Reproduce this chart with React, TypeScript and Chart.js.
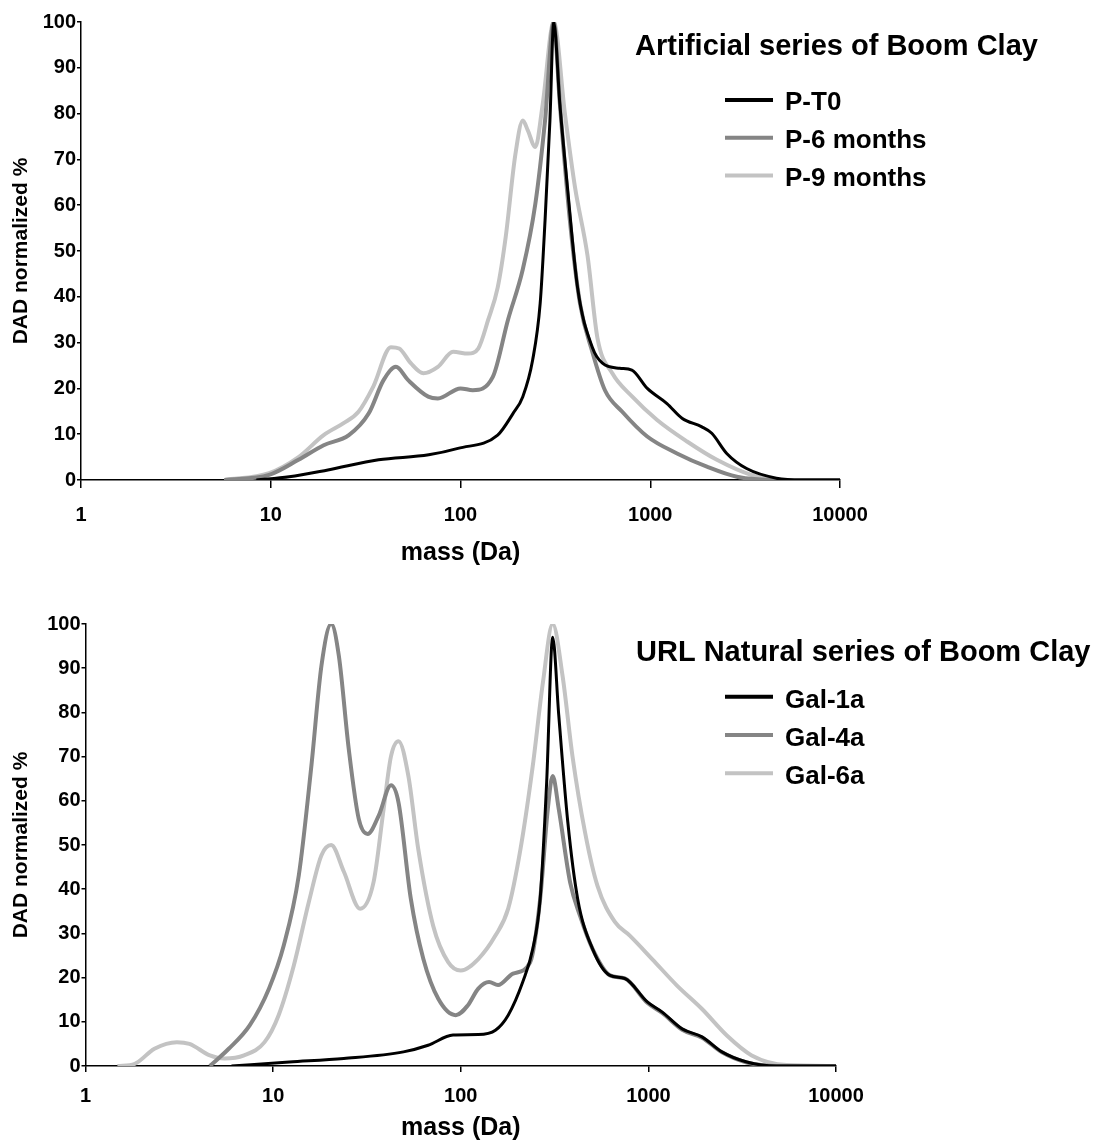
import React, { useEffect, useRef } from "react";
import { Chart, registerables } from "chart.js";

Chart.register(...registerables);

const FONT = "'Liberation Sans', Arial, Helvetica, sans-serif";

// ---------- shared axis text ----------
const massTicks = [1, 10, 100, 1000, 10000];
const yAxisTitle = "DAD normalized %";
const xAxisTitle = "mass (Da)";

// ---------- top chart: artificial series ----------
const topTitle = "Artificial series of Boom Clay";
const topNames = ["P-T0", "P-6 months", "P-9 months"];

const pT0Mass = [8.4, 12.5, 20, 37, 68, 97, 157, 189, 213, 240, 263, 279, 296, 310, 334, 366, 414, 495, 560, 690, 800, 965, 1225, 1470, 1870, 2110, 2530, 3220, 4620, 6300, 10000];
const pT0Val = [0, 0.7, 2.2, 4.4, 5.5, 6.9, 9.8, 14.5, 18.2, 26.2, 38.6, 56.7, 78.5, 100, 82, 64, 42, 29, 25.5, 24.4, 24, 20, 16.7, 13.5, 11.6, 10.2, 5.8, 2.5, 0.4, 0, 0];

const p6Mass = [5.7, 9.8, 14, 19, 25.8, 32.8, 39.3, 45.7, 53, 67.6, 76, 100, 116, 148, 178, 213, 248, 279, 310, 334, 377, 426, 495, 577, 712, 964, 1384, 1988, 2860, 4620, 10000];
const p6Val = [0, 1.1, 4.4, 7.6, 9.8, 14.5, 21.8, 24.7, 21.8, 18.2, 17.8, 20, 19.6, 22.5, 35, 46, 60.3, 78.5, 100, 82, 56.7, 38.6, 28, 19.6, 14.9, 9.5, 5.8, 2.9, 0.7, 0, 0];

const p9Mass = [5.7, 9.8, 14, 19, 24.2, 29, 34.7, 43, 47.5, 54.7, 63.7, 76, 91.4, 109.6, 124, 140, 157, 173, 194.5, 213, 226, 248, 271, 310, 355, 401, 467, 527, 631, 804, 1087, 1563, 2244, 3420, 5180, 10000];
const p9Val = [0, 1.5, 5, 9.8, 12.4, 14.9, 20.4, 29, 28.7, 25.5, 23.3, 24.7, 28, 27.6, 28.7, 35, 42, 53, 71, 78.5, 76.4, 72.7, 82, 100, 80, 64, 49, 31, 23.3, 18.2, 13.1, 8.4, 4.4, 1.1, 0, 0];

// ---------- bottom chart: URL natural series ----------
const bottomTitle = "URL Natural series of Boom Clay";
const bottomNames = ["Gal-1a", "Gal-4a", "Gal-6a"];

const g1Mass = [6, 12.2, 23.8, 49.5, 67, 91, 124, 153, 179, 214, 242, 265, 287, 309, 333, 372, 420, 504, 624, 749, 987, 1185, 1514, 1932, 2466, 3346, 4823, 10000];
const g1Val = [0, 0.9, 1.7, 3.2, 4.7, 7, 7.1, 8.1, 11.5, 19, 26.5, 37.8, 64.2, 97, 79.3, 55.2, 37.8, 26.5, 20.5, 19.8, 14.5, 12.2, 8.4, 6.6, 3.2, 0.9, 0, 0];

const g4Mass = [4.6, 5.8, 7.5, 9.5, 11.4, 13.7, 16, 18.1, 20.4, 22.4, 25.3, 28.6, 31.9, 36.5, 42.5, 46.6, 54.2, 63.2, 75.9, 94, 109, 124, 141.6, 158, 190, 234.6, 265, 291, 309, 333, 383, 432, 504, 624, 749, 987, 1185, 1514, 1932, 2466, 3346, 4823, 10000];
const g4Val = [0, 3.9, 9.2, 17.5, 27.3, 43.1, 68, 90.6, 100, 92.8, 71.7, 55.9, 52.5, 56.6, 63.5, 59.6, 37.8, 24.2, 15.2, 11.5, 13.7, 17.5, 19, 18.3, 20.9, 23.5, 37.8, 58.1, 65.6, 58.1, 41.5, 34, 26.5, 20.5, 19.8, 14.3, 12, 8.2, 6.4, 3.1, 0.8, 0, 0];

const g6Mass = [1.48, 1.83, 2.33, 3.07, 3.58, 4.6, 5.5, 7.0, 9.0, 10.7, 12.9, 15.5, 18.1, 20.4, 23.8, 29.1, 34.3, 38.8, 42.5, 46.6, 52.6, 59.4, 71.3, 85.7, 100, 124, 153, 179, 208, 242, 274, 309, 349, 394, 460, 535, 663, 796, 1047, 1421, 1932, 2620, 3554, 5453, 10000];
const g6Val = [0, 0.5, 3.9, 5.4, 5, 2.4, 1.7, 2.4, 5.4, 11.5, 22.8, 37.1, 47.7, 50, 44, 35.6, 41.6, 58.1, 70.1, 73.5, 65.6, 49, 31.7, 23.5, 21.6, 24.2, 29.5, 35.6, 49, 67.9, 86.7, 100, 88.2, 70.1, 52.8, 40.8, 32.6, 29.5, 24.2, 18.2, 12.9, 6.9, 2.4, 0.2, 0];

// ---------- styles ----------
const seriesColors = ["#000000", "#858585", "#c3c3c3"];
const seriesWidths = [3, 4, 4];

function toPoints(mass: number[], val: number[]) {
  return mass.map((m, i) => ({ x: m, y: val[i] }));
}

const keyPlugin = {
  id: "seriesKey",
  afterDraw(chart: any, _args: any, opts: any) {
    const ctx = chart.ctx;
    ctx.save();
    ctx.fillStyle = "#000";
    ctx.textAlign = "left";
    ctx.textBaseline = "alphabetic";
    ctx.font = `bold ${opts.titleSize}px ${FONT}`;
    ctx.fillText(opts.title, opts.titleX, opts.titleY);
    ctx.font = `bold ${opts.labelSize}px ${FONT}`;
    chart.data.datasets.forEach((ds: any, i: number) => {
      const y = opts.firstY + i * opts.gap;
      ctx.strokeStyle = ds.borderColor;
      ctx.lineWidth = opts.lineWidth;
      ctx.lineCap = "butt";
      ctx.beginPath();
      ctx.moveTo(opts.lineX1, y);
      ctx.lineTo(opts.lineX2, y);
      ctx.stroke();
      ctx.fillText(ds.label, opts.textX, y + opts.textDy);
    });
    ctx.restore();
  },
};

type Layout = {
  width: number;
  height: number;
  left: number;
  right: number;
  top: number;
  bottom: number;
  xTickLen: number;
  xTickPad: number;
  xTitlePad: number;
  key: any;
};

function buildConfig(names: string[], series: { x: number; y: number }[][], L: Layout): any {
  const tickFont = { family: FONT, size: 20, weight: "bold" as const };
  return {
    type: "line",
    data: {
      datasets: series.map((pts, i) => ({
        label: names[i],
        data: pts,
        borderColor: seriesColors[i],
        backgroundColor: seriesColors[i],
        borderWidth: seriesWidths[i],
        pointRadius: 0,
        fill: false,
        cubicInterpolationMode: "monotone",
      })),
    },
    options: {
      responsive: false,
      maintainAspectRatio: false,
      animation: false,
      devicePixelRatio: 1,
      events: [],
      layout: { padding: { left: 0, top: L.top, right: L.width - L.right, bottom: 0 } },
      plugins: {
        legend: { display: false },
        title: { display: false },
        tooltip: { enabled: false },
        seriesKey: L.key,
      },
      scales: {
        x: {
          type: "logarithmic",
          min: 1,
          max: 10000,
          afterBuildTicks: (s: any) => {
            s.ticks = massTicks.map((v) => ({ value: v }));
          },
          afterFit: (s: any) => {
            s.height = L.height - L.bottom;
          },
          ticks: {
            callback: (v: any) => String(v),
            color: "#000",
            font: tickFont,
            padding: L.xTickPad,
            maxRotation: 0,
            autoSkip: false,
          },
          grid: { drawOnChartArea: false, drawTicks: true, tickLength: L.xTickLen, color: "#000", lineWidth: 1.5 },
          border: { display: true, color: "#000", width: 1.5 },
          title: {
            display: true,
            text: xAxisTitle,
            color: "#000",
            font: { family: FONT, size: 25, weight: "bold", lineHeight: 1 },
            padding: { top: 0, bottom: L.xTitlePad },
          },
        },
        y: {
          type: "linear",
          min: 0,
          max: 100,
          afterFit: (s: any) => {
            s.width = L.left;
          },
          ticks: { stepSize: 10, color: "#000", font: tickFont, padding: 1 },
          grid: { drawOnChartArea: false, drawTicks: true, tickLength: 4, color: "#000", lineWidth: 1.5 },
          border: { display: true, color: "#000", width: 1.5 },
          title: {
            display: true,
            text: yAxisTitle,
            color: "#000",
            font: { family: FONT, size: 21, weight: "bold", lineHeight: 1 },
            padding: { top: 11, bottom: 0 },
          },
        },
      },
    },
    plugins: [keyPlugin],
  };
}

const topLayout: Layout = {
  width: 1096,
  height: 572,
  left: 81,
  right: 840,
  top: 22,
  bottom: 480,
  xTickLen: 8,
  xTickPad: 15,
  xTitlePad: 6.5,
  key: {
    title: topTitle,
    titleSize: 29,
    titleX: 635,
    titleY: 55,
    labelSize: 26,
    lineX1: 725,
    lineX2: 773,
    lineWidth: 4,
    firstY: 100,
    gap: 37.8,
    textX: 785,
    textDy: 10,
  },
};

const bottomLayout: Layout = {
  width: 1096,
  height: 570,
  left: 85.5,
  right: 836,
  top: 52,
  bottom: 494,
  xTickLen: 6,
  xTickPad: 12.7,
  xTitlePad: 1.5,
  key: {
    title: bottomTitle,
    titleSize: 29,
    titleX: 636,
    titleY: 88.7,
    labelSize: 26,
    lineX1: 725,
    lineX2: 773,
    lineWidth: 4,
    firstY: 124.7,
    gap: 38.3,
    textX: 785,
    textDy: 11,
  },
};

function ChartCanvas({ config, width, height, top }: { config: any; width: number; height: number; top: number }) {
  const ref = useRef<HTMLCanvasElement | null>(null);
  useEffect(() => {
    if (!ref.current) return;
    const chart = new Chart(ref.current, config);
    return () => chart.destroy();
  }, [config]);
  return (
    <canvas
      ref={ref}
      width={width}
      height={height}
      style={{ position: "absolute", left: 0, top, width, height, display: "block" }}
    />
  );
}

const topConfig = buildConfig(
  topNames,
  [toPoints(pT0Mass, pT0Val), toPoints(p6Mass, p6Val), toPoints(p9Mass, p9Val)],
  topLayout
);
const bottomConfig = buildConfig(
  bottomNames,
  [toPoints(g1Mass, g1Val), toPoints(g4Mass, g4Val), toPoints(g6Mass, g6Val)],
  bottomLayout
);

export default function App() {
  return (
    <div style={{ position: "absolute", left: 0, top: 0, width: 1096, height: 1142, background: "#fff" }}>
      <ChartCanvas config={topConfig} width={1096} height={572} top={0} />
      <ChartCanvas config={bottomConfig} width={1096} height={570} top={572} />
    </div>
  );
}
